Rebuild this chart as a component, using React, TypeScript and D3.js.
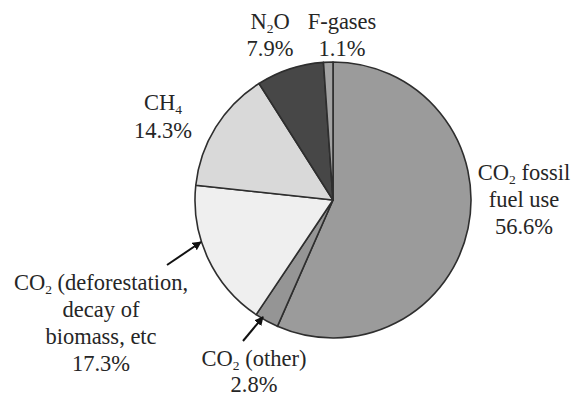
import React from "react";
import * as d3 from "d3";

const categories = [
  "CO2 fossil fuel use",
  "CO2 (other)",
  "CO2 (deforestation, decay of biomass, etc",
  "CH4",
  "N2O",
  "F-gases",
];
const values = [56.6, 2.8, 17.3, 14.3, 7.9, 1.1];
const fills = ["#9b9b9b", "#959595", "#efefef", "#d9d9d9", "#474747", "#a3a3a3"];

type Seg = { t: string; sub?: boolean };
// label text lines (percentage appended as last line)
const labelLines: Seg[][][] = [
  [[{ t: "CO" }, { t: "2", sub: true }, { t: " fossil" }], [{ t: "fuel use" }]],
  [[{ t: "CO" }, { t: "2", sub: true }, { t: " (other)" }]],
  [[{ t: "CO" }, { t: "2", sub: true }, { t: " (deforestation," }], [{ t: "decay of" }], [{ t: "biomass, etc" }]],
  [[{ t: "CH" }, { t: "4", sub: true }]],
  [[{ t: "N" }, { t: "2", sub: true }, { t: "O" }]],
  [[{ t: "F-gases" }]],
];

// layout (positions of label blocks: center x, first baseline y, line step)
const labelPos = [
  { x: 524, y: 180, step: 27 },
  { x: 254, y: 366, step: 26 },
  { x: 101, y: 290, step: 27 },
  { x: 163, y: 110, step: 28 },
  { x: 270, y: 29, step: 27 },
  { x: 342, y: 29, step: 27 },
];
const arrows = [
  { x1: 167, y1: 265, x2: 201, y2: 242 },
  { x1: 243, y1: 341, x2: 263, y2: 317 },
];

const W = 578;
const H = 396;
const cx = 333;
const cy = 200;
const R = 138;
const fontSize = 22.5;

export default function App() {
  const pie = d3
    .pie<number>()
    .sort(null)
    .value((d) => d)
    .startAngle(0)
    .endAngle(2 * Math.PI);
  const arcs = pie(values);
  const arc = d3.arc<d3.PieArcDatum<number>>().innerRadius(0).outerRadius(R);

  return (
    <svg
      width={W}
      height={H}
      style={{ position: "absolute", left: 0, top: 0, background: "#fff" }}
      fontFamily="'Liberation Serif', 'Times New Roman', serif"
    >
      <defs>
        <marker
          id="ah"
          viewBox="0 0 10 10"
          refX="9"
          refY="5"
          markerWidth="9"
          markerHeight="9"
          markerUnits="userSpaceOnUse"
          orient="auto"
        >
          <path d="M0,0 L10,5 L0,10 z" fill="#111" />
        </marker>
      </defs>
      <g transform={`translate(${cx},${cy})`}>
        {arcs.map((a, i) => (
          <path
            key={categories[i]}
            d={arc(a) || ""}
            fill={fills[i]}
            stroke="#2e2e2e"
            strokeWidth={1.6}
            strokeLinejoin="round"
          />
        ))}
      </g>
      {arrows.map((a, i) => (
        <line
          key={i}
          x1={a.x1}
          y1={a.y1}
          x2={a.x2}
          y2={a.y2}
          stroke="#111"
          strokeWidth={2}
          markerEnd="url(#ah)"
        />
      ))}
      {labelLines.map((lines, i) => {
        const all: Seg[][] = [...lines, [{ t: `${values[i]}%` }]];
        const p = labelPos[i];
        return (
          <g key={categories[i]}>
            {all.map((line, li) => (
              <text
                key={li}
                x={p.x}
                y={p.y + li * p.step}
                fontSize={fontSize}
                fill="#262626"
                textAnchor="middle"
              >
                {line.map((s, si) =>
                  s.sub ? (
                    <tspan key={si} fontSize={fontSize * 0.6} dy={4}>
                      {s.t}
                    </tspan>
                  ) : (
                    <tspan key={si} dy={si > 0 && line[si - 1].sub ? -4 : 0}>
                      {s.t}
                    </tspan>
                  )
                )}
              </text>
            ))}
          </g>
        );
      })}
    </svg>
  );
}
